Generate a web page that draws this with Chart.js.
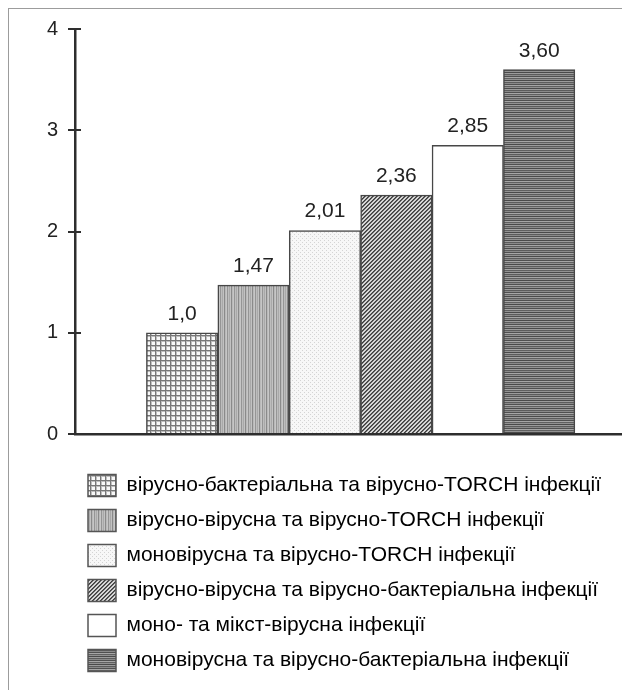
<!DOCTYPE html>
<html>
<head>
<meta charset="utf-8">
<script src="https://cdn.jsdelivr.net/npm/chart.js@4.4.0/dist/chart.umd.min.js"></script>
<style>
  html, body { margin: 0; padding: 0; background: #ffffff; }
  #frame {
    position: absolute; left: 8px; top: 8px; width: 614px; height: 682px;
    border-left: 1px solid #9c9c9c; border-top: 1px solid #9c9c9c; box-sizing: border-box;
  }
  #wrap { position: absolute; left: 0; top: 0; width: 622px; height: 690px; }
</style>
</head>
<body>
<div id="frame"></div>
<div id="wrap"><canvas id="chart" width="622" height="690"></canvas></div>
<script>
// Infection groups, in the order of the bars and the legend
const categories = [
  'вірусно-бактеріальна та вірусно-TORCH інфекції',
  'вірусно-вірусна та вірусно-TORCH інфекції',
  'моновірусна та вірусно-TORCH інфекції',
  'вірусно-вірусна та вірусно-бактеріальна інфекції',
  'моно- та мікст-вірусна інфекції',
  'моновірусна та вірусно-бактеріальна інфекції'
];
// Bar heights and the figures printed above them
const values = [1.0, 1.47, 2.01, 2.36, 2.85, 3.60];
const valueLabels = ['1,0', '1,47', '2,01', '2,36', '2,85', '3,60'];
// Value axis
const yMin = 0;
const yMax = 4;
const yStep = 1;

const FONT = '"Liberation Sans", Arial, Helvetica, sans-serif';
const INK = '#222222';
const AXIS = '#2e2e2e';

// Small repeating tiles used as hatch fills
function tile(w, h, paint) {
  const c = document.createElement('canvas');
  c.width = w; c.height = h;
  const g = c.getContext('2d');
  paint(g, w, h);
  return g.createPattern(c, 'repeat');
}
function px(g, x, y, color) { g.fillStyle = color; g.fillRect(x, y, 1, 1); }

const fills = [
  // fine check
  tile(5, 5, (g) => {
    g.fillStyle = '#f8f8f8'; g.fillRect(0, 0, 5, 5);
    g.fillStyle = '#bdbdbd'; g.fillRect(0, 1, 5, 1); g.fillRect(1, 0, 1, 5);
    g.fillStyle = '#777777'; g.fillRect(0, 0, 5, 1); g.fillRect(0, 0, 1, 5);
  }),
  // vertical stripes
  tile(7, 1, (g) => {
    ['#8a8a8a', '#b9b9b9', '#c6c6c6', '#959595', '#bdbdbd', '#a9a9a9', '#c2c2c2']
      .forEach((c, x) => px(g, x, 0, c));
  }),
  // light dots
  tile(4, 4, (g) => {
    g.fillStyle = '#f7f7f7'; g.fillRect(0, 0, 4, 4);
    px(g, 0, 0, '#d4d4d4'); px(g, 2, 2, '#d4d4d4');
  }),
  // diagonal hatch
  tile(4, 4, (g) => {
    for (let y = 0; y < 4; y++) {
      for (let x = 0; x < 4; x++) {
        const k = (x + y) % 4;
        px(g, x, y, k === 0 ? '#3c3c3c' : k === 1 ? '#6a6a6a' : k === 2 ? '#e2e2e2' : '#c8c8c8');
      }
    }
  }),
  // plain
  '#ffffff',
  // horizontal stripes
  tile(1, 8, (g) => {
    ['#4a4a4a', '#9c9c9c', '#5c5c5c', '#8a8a8a', '#505050', '#a6a6a6', '#606060', '#929292']
      .forEach((c, y) => px(g, 0, y, c));
  })
];

// Figures printed above each bar
const valueLabelPlugin = {
  id: 'valueLabels',
  afterDatasetsDraw(chart) {
    const { ctx } = chart;
    const meta = chart.getDatasetMeta(0);
    ctx.save();
    ctx.font = '21px ' + FONT;
    ctx.fillStyle = INK;
    ctx.textAlign = 'center';
    ctx.textBaseline = 'alphabetic';
    meta.data.forEach((bar, i) => ctx.fillText(valueLabels[i], bar.x, bar.y - 13));
    ctx.restore();
  }
};

new Chart(document.getElementById('chart'), {
  type: 'bar',
  data: {
    datasets: [{
      data: values.map((v, i) => ({ x: i + 1.5, y: v })),
      backgroundColor: fills,
      borderColor: '#474747',
      borderWidth: 1.5,
      borderSkipped: 'bottom',
      categoryPercentage: 1,
      barPercentage: 1
    }]
  },
  options: {
    responsive: false,
    animation: false,
    events: [],
    layout: { padding: { left: 47, right: 0, top: 29, bottom: 8.5 } },
    scales: {
      x: {
        type: 'linear',
        min: 0,
        max: 7.66,
        offset: false,
        ticks: { display: false, stepSize: 1, includeBounds: false },
        grid: { display: true, offset: false, drawOnChartArea: false, drawTicks: true, tickLength: 27.5, color: 'rgba(0,0,0,0)' },
        border: { display: true, color: AXIS, width: 2.5 }
      },
      y: {
        min: yMin,
        max: yMax,
        ticks: { stepSize: yStep, padding: 10, color: INK, font: { family: FONT, size: 20 } },
        grid: { drawOnChartArea: false, drawTicks: true, tickLength: 7, color: AXIS, lineWidth: 2 },
        border: { display: true, color: AXIS, width: 2.5 },
        afterFit(scale) { scale.width = 28; }
      },
      // inner half of the value-axis tick marks
      yInner: {
        axis: 'y',
        position: { x: 0 },
        min: yMin,
        max: yMax,
        ticks: { display: false, stepSize: yStep },
        grid: { drawOnChartArea: false, drawTicks: true, tickLength: -6, color: AXIS, lineWidth: 2 },
        border: { display: false }
      }
    },
    plugins: {
      tooltip: { enabled: false },
      legend: {
        position: 'bottom',
        align: 'start',
        fullSize: false,
        labels: {
          boxWidth: 28,
          boxHeight: 22,
          padding: 13,
          color: INK,
          font: { family: FONT, size: 21 },
          generateLabels: () => categories.map((text, i) => ({
            text,
            fillStyle: fills[i],
            strokeStyle: '#555555',
            lineWidth: 1.5,
            hidden: false,
            index: i,
            datasetIndex: 0
          }))
        }
      }
    }
  },
  plugins: [valueLabelPlugin]
});
</script>
</body>
</html>
